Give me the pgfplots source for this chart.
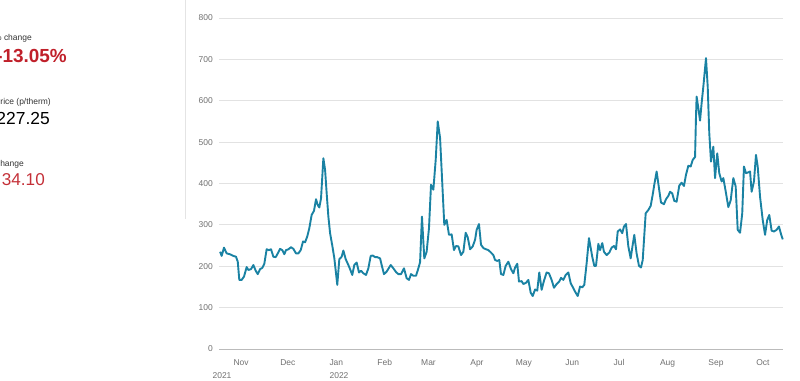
\documentclass[border=0pt]{standalone}
\usepackage{fontspec}
\setmainfont{Liberation Sans}
\usepackage{pgfplots}
\pgfplotsset{compat=1.18}
\definecolor{linecol}{HTML}{1A82A3}
\definecolor{redA}{HTML}{C0202A}
\definecolor{redB}{HTML}{C43038}
\definecolor{ticktext}{HTML}{707070}
\definecolor{gridc}{HTML}{E2E2E2}
\definecolor{basec}{HTML}{BBBBBB}
\definecolor{divc}{HTML}{E4E4E4}
\begin{document}
\begin{tikzpicture}[x=1bp,y=1bp]
\useasboundingbox (0,0) rectangle (800,380);
\draw[divc, line width=1bp] (185.5,380) -- (185.5,161);
\node[anchor=base east, inner sep=0, text=black!80, font=\fontsize{8.5}{10}\selectfont] at (32,340) {\% change};
\node[anchor=base east, inner sep=0, text=redA, font=\bfseries\fontsize{19}{22}\selectfont] at (67,317.7) {-13.05\%};
\node[anchor=base east, inner sep=0, text=black!80, font=\fontsize{8.5}{10}\selectfont] at (51,275.5) {Price (p/therm)};
\node[anchor=base east, inner sep=0, text=black, font=\fontsize{17.5}{20}\selectfont] at (50,256) {227.25};
\node[anchor=base east, inner sep=0, text=black!80, font=\fontsize{8.5}{10}\selectfont] at (24,214) {change};
\node[anchor=base east, inner sep=0, text=redB, font=\fontsize{17.2}{20}\selectfont] at (45,194.7) {34.10};
\begin{axis}[
  at={(219bp,31bp)}, anchor=south west, scale only axis,
  width=564bp, height=331bp,
  xmin=-14.1, xmax=346.9, ymin=0, ymax=800,
  axis line style={draw=none}, tick style={draw=none},
  ytick={100,200,...,800},
  extra y ticks={0},
  extra y tick style={grid style={basec, line width=1bp}},
  ymajorgrids, grid style={gridc, line width=0.9bp},
  xtick={0,30,61,92,120,151,181,212,242,273,304,334},
  xticklabels={Nov,Dec,Jan,Feb,Mar,Apr,May,Jun,Jul,Aug,Sep,Oct},
  /pgf/number format/assume math mode=true,
  yticklabel style={anchor=east, inner sep=0pt, xshift=-6bp, text=ticktext, font=\fontsize{8.5}{10}\selectfont},
  xticklabel style={anchor=base, inner sep=0pt, yshift=-16.5bp, text=ticktext, font=\fontsize{8.5}{10}\selectfont},
  clip=false,
]
\addplot[linecol, line width=1.9bp, line join=round] coordinates {
(-13.4,235) (-12.4,225) (-10.9,245) (-9.2,231) (-7.0,229) (-4.9,225) (-3.2,223) (-2.1,211) (-1.1,167)
(0.4,167) (1.9,175) (3.6,198) (4.7,191) (6.4,193) (7.9,203) (9.4,189) (10.7,181) (12.2,193) (13.6,196)
(14.9,206) (16.4,241) (17.9,239) (19.2,241) (20.7,223) (22.2,222) (23.5,231) (25.0,242) (26.4,239)
(27.7,229) (28.8,239) (30.3,241) (32.0,246) (33.5,242) (35.2,231) (36.7,231) (38.2,239) (39.7,260)
(41.0,258) (42.4,272) (43.7,292) (45.2,324) (46.7,334) (48.0,362) (49.1,348) (50.1,342) (51.2,364)
(52.7,461) (53.8,433) (54.8,377) (55.9,320) (57.0,280) (58.4,250) (59.7,220) (61.6,155) (62.9,217)
(64.4,223) (65.5,238) (67.0,217) (68.7,203) (70.2,189) (71.2,179) (72.5,203) (74.0,209) (75.5,185)
(76.8,189) (78.3,183) (80.0,179) (81.5,195) (83.0,225) (84.3,226) (85.8,222) (87.2,222) (89.0,219)
(90.0,203) (91.5,181) (93.2,187) (95.8,203) (97.5,195) (99.2,186) (100.7,181) (102.4,181) (104.3,195)
(106.0,171) (107.5,167) (108.8,181) (110.3,177) (112.0,177) (113.5,195) (114.6,210) (115.8,320)
(117.3,219) (118.8,235) (120.3,292) (121.6,397) (123.1,385) (124.6,457) (125.9,550) (127.4,510)
(128.8,401) (130.1,300) (131.6,312) (133.1,276) (134.8,277) (136.3,239) (137.6,249) (139.1,248)
(140.8,227) (142.3,235) (143.8,281) (145.1,270) (146.6,241) (148.3,248) (149.8,264) (150.8,288)
(152.3,302) (153.6,252) (155.1,244) (156.8,241) (158.3,239) (160.0,233) (161.5,227) (162.6,215)
(164.0,213) (165.3,215) (166.4,181) (167.9,179) (169.4,201) (171.1,211) (172.8,193) (174.3,183)
(175.4,197) (176.8,206) (177.9,163) (179.6,164) (180.7,157) (182.4,160) (183.9,167) (185.4,136)
(186.7,128) (188.2,144) (189.6,141) (190.9,185) (192.4,143) (193.9,165) (195.6,185) (197.1,183)
(198.8,167) (200.3,148) (202.0,157) (203.7,163) (204.8,172) (206.3,167) (207.8,179) (209.5,185)
(211.0,159) (212.7,147) (214.2,136) (215.5,128) (217.0,151) (218.4,149) (219.7,155) (221.2,207)
(222.7,268) (224.8,223) (226.1,201) (227.2,201) (228.7,254) (229.8,239) (231.2,256) (232.3,235)
(234.0,227) (235.7,233) (237.2,245) (238.7,249) (240.0,241) (241.1,284) (242.6,289) (244.0,280)
(245.1,296) (246.4,302) (247.9,248) (249.4,219) (250.7,252) (251.7,276) (253.2,231) (254.7,201)
(256.0,197) (257.1,215) (259.0,328) (260.7,336) (262.2,346) (263.5,373) (264.5,397) (266.0,429)
(267.5,389) (268.8,354) (270.7,350) (272.0,362) (273.5,370) (274.6,380) (276.0,376) (277.3,358)
(278.8,356) (280.5,395) (282.0,402) (283.5,394) (284.8,421) (286.3,443) (287.8,441) (289.1,457)
(290.6,464) (291.2,562) (291.6,610) (292.7,582) (293.8,552) (294.8,594) (295.9,634) (297.6,703)
(298.7,634) (299.7,522) (300.8,453) (302.3,489) (303.4,413) (304.8,473) (306.1,425) (307.6,405)
(308.7,413) (310.4,377) (311.9,343) (313.4,359) (315.1,413) (316.6,393) (317.9,288) (319.4,281)
(320.8,328) (321.9,441) (323.2,425) (324.7,427) (325.8,429) (326.8,380) (328.3,405) (329.6,469)
(330.7,441) (332.2,368) (333.9,312) (335.4,276) (336.8,312) (338.1,324) (339.6,286) (341.1,284)
(342.8,288) (344.3,296) (345.6,278) (346.7,265)
};
\end{axis}
\node[anchor=base, inner sep=0, text=ticktext, font=\fontsize{8.5}{10}\selectfont] at (222,1.5) {2021};
\node[anchor=base, inner sep=0, text=ticktext, font=\fontsize{8.5}{10}\selectfont] at (339,1.5) {2022};
\end{tikzpicture}
\end{document}
